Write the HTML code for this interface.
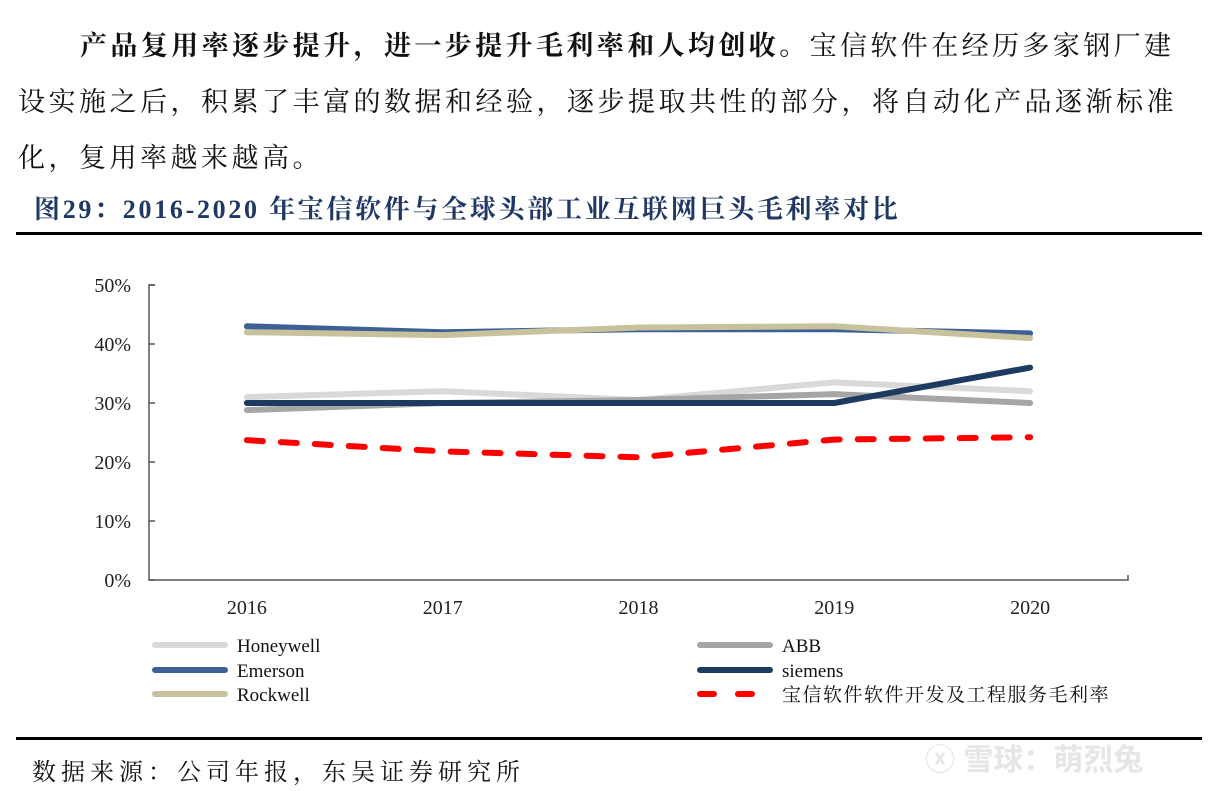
<!DOCTYPE html>
<html><head><meta charset="utf-8">
<style>
body{margin:0;width:1217px;height:791px;background:#fff;overflow:hidden;position:relative;font-family:"Liberation Serif","Noto Serif CJK SC",serif;}
.p{position:absolute;left:18px;font-size:27px;color:#111;letter-spacing:3.5px;white-space:nowrap;}
</style></head><body>
<div class="p" style="top:24px;left:80px;letter-spacing:3.4px"><b>产品复用率逐步提升，进一步提升毛利率和人均创收。</b>宝信软件在经历多家钢厂建</div>
<div class="p" style="top:80px">设实施之后，积累了丰富的数据和经验，逐步提取共性的部分，将自动化产品逐渐标准</div>
<div class="p" style="top:136px">化，复用率越来越高。</div>
<div style="position:absolute;left:34px;top:189px;font-size:26px;font-weight:bold;color:#1f3864;white-space:nowrap;letter-spacing:2.7px">图29：2016-2020 年宝信软件与全球头部工业互联网巨头毛利率对比</div>
<div style="position:absolute;left:16px;top:232px;width:1186px;height:3px;background:#000"></div>
<div style="position:absolute;left:16px;top:737px;width:1186px;height:3px;background:#000"></div>
<div style="position:absolute;left:32px;top:752px;font-size:24px;color:#111;letter-spacing:5px">数据来源：公司年报，东吴证券研究所</div>
<div style="position:absolute;left:925px;top:735px;font-size:30px;color:#e6e6e6;font-family:'Liberation Sans','Noto Sans CJK SC',sans-serif;font-weight:bold">ⓧ 雪球：萌烈兔</div>
<svg id="chart" width="1217" height="791" style="position:absolute;left:0;top:0"></svg>
<script>
const years=['2016','2017','2018','2019','2020'];
const yTicks=[0,10,20,30,40,50];
const honeywell=[31,32,30.5,33.5,32];
const abb=[28.8,30,30.5,31.5,30];
const emerson=[43,42,42.5,42.5,41.8];
const siemens=[30,30,30,30,36];
const rockwell=[42,41.5,42.8,43,41];
const baosight=[23.7,21.8,20.8,23.8,24.2];
const NS='http://www.w3.org/2000/svg';
const svg=document.getElementById('chart');
const X0=149,X1=1128,Y0=580,Y1=285;
const bw=(X1-X0)/years.length;
function xs(i){return X0+bw*(i+0.5);}
function ys(v){return Y0-(v/50)*(Y0-Y1);}
function mk(t,a){const e=document.createElementNS(NS,t);for(const k in a)e.setAttribute(k,a[k]);svg.appendChild(e);return e;}
let ax=mk('path',{d:`M${X0+6},${Y1} H${X0} V${Y0} H${X1} V${Y0-5}`,fill:'none',stroke:'#555','stroke-width':1.5});


yTicks.forEach(v=>{
 const t=mk('line',{x1:X0,x2:X0+6,y1:ys(v),y2:ys(v),stroke:'#555','stroke-width':1.5});
 
 
 const l=mk('text',{x:131,y:ys(v)+7,'text-anchor':'end','font-size':20,fill:'#222','font-family':'Liberation Serif,serif'});
 l.textContent=v+'%';
 
 
});
years.forEach((y,i)=>{
 const l=mk('text',{x:xs(i),y:614,'text-anchor':'middle','font-size':20,fill:'#222','font-family':'Liberation Serif,serif'});
 l.textContent=y;
 
 
});
const series=[
 {n:'Honeywell',d:honeywell,c:'#d9d9d9',dash:null,lx:155,ly:645},
 {n:'ABB',d:abb,c:'#a6a6a6',dash:null,lx:700,ly:645},
 {n:'siemens',d:siemens,c:'#1f3a60',dash:null,lx:700,ly:670},
 {n:'Emerson',d:emerson,c:'#3d6196',dash:null,lx:155,ly:670},
 {n:'Rockwell',d:rockwell,c:'#c8c29c',dash:null,lx:155,ly:694},
 {n:'宝信软件软件开发及工程服务毛利率',d:baosight,c:'#ff0000',dash:'16 18',lx:700,ly:694}
];
series.forEach(s=>{
 const pts=s.d.map((v,i)=>xs(i)+','+ys(v)).join(' ');
 const a={points:pts,fill:'none',stroke:s.c,'stroke-width':6,'stroke-linecap':'round','stroke-linejoin':'round'};
 if(s.dash)a['stroke-dasharray']=s.dash;
 const p=mk('polyline',a);
 
 
 const la={x1:s.lx,x2:s.lx+70,y1:s.ly,y2:s.ly,stroke:s.c,'stroke-width':6,'stroke-linecap':'round'};
 if(s.dash)la['stroke-dasharray']='14 24';
 const ll=mk('line',la);
 
 
 const t=mk('text',{x:s.lx+82,y:s.ly+7,'font-size':19,fill:'#111','font-family':'Liberation Serif,Noto Serif CJK SC,serif','letter-spacing':s.dash?1.5:0});
 t.textContent=s.n;
 
 
});
</script>
</body></html>
